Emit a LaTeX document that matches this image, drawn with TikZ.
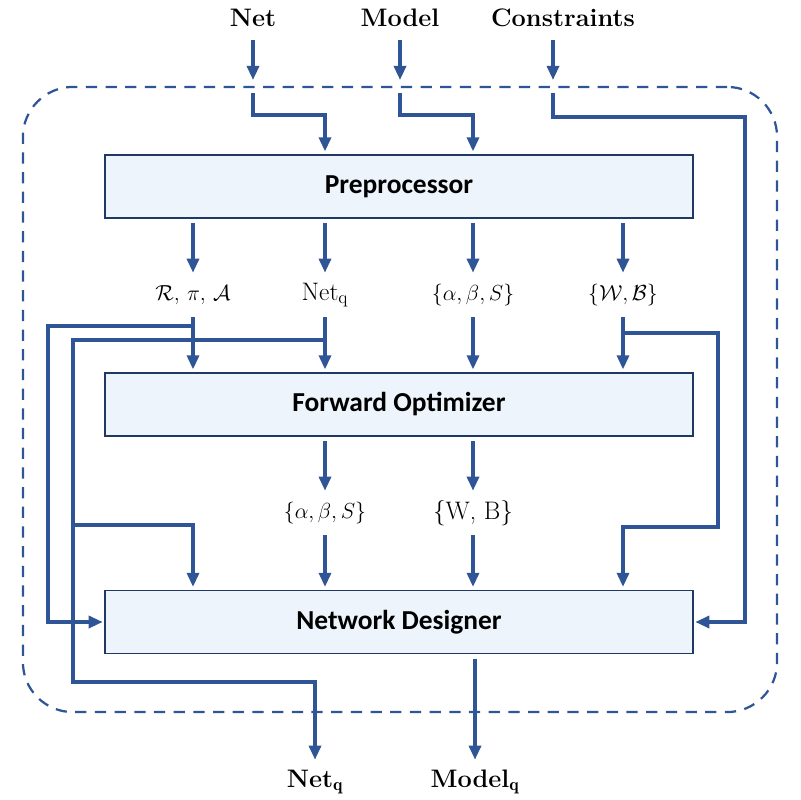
\RequirePackage{fix-cm}
\documentclass[tikz,border=0pt]{standalone}
\usepackage{fontspec}
\setsansfont{Carlito}
\usepackage{amsmath}
\usepackage{tikz}
\usetikzlibrary{positioning, arrows.meta, calc}

\definecolor{lineblue}{HTML}{2F5597}
\definecolor{boxfill}{HTML}{EDF4FB}
\definecolor{boxline}{HTML}{203864}

\tikzset{
  conn/.style={draw=lineblue, line width=2.4pt, -{Triangle[length=10pt,width=8.5pt]}},
  block/.style={draw=boxline, line width=1.1pt, fill=boxfill, minimum width=14.7cm,
    minimum height=1.575cm, font=\sffamily\bfseries\fontsize{19.5}{22}\selectfont},
  lbl/.style={inner sep=0pt, minimum height=1.1cm, font=\fontsize{15.5}{19}\selectfont},
  lbltext/.style={lbl, font=\fontsize{18}{21}\selectfont},
  io/.style={inner sep=0pt, minimum height=1.1cm, font=\bfseries\fontsize{18}{21}\selectfont},
  frame/.style={draw=lineblue, line width=1.6pt, dash pattern=on 8pt off 6pt,
    rounded corners=1.25cm, minimum width=18.85cm, minimum height=15.625cm}
}

\begin{document}
\begin{tikzpicture}[x=0.025cm, y=-0.025cm]
\useasboundingbox (0,0) rectangle (800,800);

\node[frame] (frame) at (400,399.5) {};

\node[io] (net) at (253,18) {Net};
\node[io] (model) at (400,18) {Model};
\node[io] (cons) at (563,18) {Constraints};

\node[block] (pre) at (399,186.5) {Preprocessor};
\node[block] (fo) at (399,404.5) {Forward Optimizer};
\node[block] (nd) at (399,622) {Network Designer};

\node[lbl] (rpa) at (193,295) {$\mathcal{R},\,\pi,\,\mathcal{A}$};
\node[lbltext] (nq) at (325,295) {Net$_\mathrm{q}$};
\node[lbl] (abs) at (473,295) {$\{\alpha,\beta,S\}$};
\node[lbl] (wbs) at (623,295) {$\{\mathcal{W},\mathcal{B}\}$};

\node[lbl] (abs2) at (325,513) {$\{\alpha,\beta,S\}$};
\node[lbltext] (wb2) at (473,513) {\{W, B\}};

\node[io] (netout) at (315,782) {Net$_\mathbf{q}$};
\node[io] (modelout) at (475,782) {Model$_\mathbf{q}$};

\coordinate (above) at (0,80);
\coordinate (below) at (0,93);
\coordinate (consline) at (553,40);
\coordinate (rr) at (745,117);

% inputs
\draw[conn] (net) -- (net |- above);
\draw[conn] (model) -- (model |- above);
\draw[conn] (consline) -- (consline |- above);
\draw[conn, shorten >=2pt] (net |- below) -- ++(0,22) -| (pre.north -| nq);
\draw[conn, shorten >=2pt] (model |- below) -- ++(0,22) -| (pre.north -| abs);
\draw[conn, shorten >=1pt] (consline |- below) -- (consline |- rr) -- (rr) |- (nd.east);

% preprocessor outputs
\foreach \n in {rpa,nq,abs,wbs}{
  \draw[conn, shorten <=3pt] (pre.south -| \n) -- (\n);
  \draw[conn, shorten >=2pt] (\n) -- (fo.north -| \n);
}

% feedback wires
\draw[conn, shorten >=1pt] (rpa |- 0,326) -- (48,326) |- (nd.west);
\draw[conn] (nq |- 0,340) -- (73,340) |- (netout |- 0,682) -- (netout);
\draw[conn, shorten >=2pt] (73,525) -| (nd.north -| rpa);
\draw[conn, shorten >=2pt] (wbs |- 0,333) -- (718,333) |- (wbs |- 0,527) -- (nd.north -| wbs);

% optimizer outputs
\foreach \n in {abs2,wb2}{
  \draw[conn, shorten <=3pt] (fo.south -| \n) -- (\n);
  \draw[conn, shorten >=2pt] (\n) -- (nd.north -| \n);
}
\draw[conn, shorten <=3pt] (nd.south -| modelout) -- (modelout);
\end{tikzpicture}
\end{document}
